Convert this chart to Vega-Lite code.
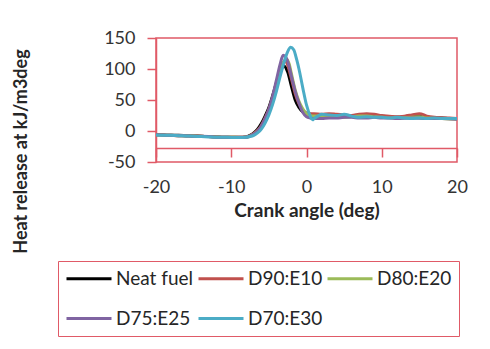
{
  "$schema": "https://vega.github.io/schema/vega-lite/v6.json",
  "autosize": {"type": "none"},
  "width": 301,
  "height": 124,
  "padding": {"left": 156, "top": 38, "right": 33, "bottom": 187},
  "background": "white",
  "config": {
    "view": {"stroke": "#e05a67", "strokeWidth": 1.5},
    "font": "Lato"
  },
  "data": {"values": [
    {"fuel":"Neat fuel","deg":-20,"hr":-6},{"fuel":"Neat fuel","deg":-19,"hr":-6.5},{"fuel":"Neat fuel","deg":-18,"hr":-7},{"fuel":"Neat fuel","deg":-17,"hr":-7},{"fuel":"Neat fuel","deg":-16,"hr":-7.5},{"fuel":"Neat fuel","deg":-15,"hr":-8},{"fuel":"Neat fuel","deg":-14,"hr":-8.5},{"fuel":"Neat fuel","deg":-13,"hr":-9},{"fuel":"Neat fuel","deg":-12,"hr":-9.5},{"fuel":"Neat fuel","deg":-11,"hr":-10},{"fuel":"Neat fuel","deg":-10,"hr":-10},{"fuel":"Neat fuel","deg":-9,"hr":-10},{"fuel":"Neat fuel","deg":-8,"hr":-9.5},
    {"fuel":"Neat fuel","deg":-7.5,"hr":-7},{"fuel":"Neat fuel","deg":-7,"hr":-3},{"fuel":"Neat fuel","deg":-6.5,"hr":3},{"fuel":"Neat fuel","deg":-6,"hr":12},{"fuel":"Neat fuel","deg":-5.5,"hr":24},{"fuel":"Neat fuel","deg":-5,"hr":38},{"fuel":"Neat fuel","deg":-4.5,"hr":57},{"fuel":"Neat fuel","deg":-4,"hr":78},{"fuel":"Neat fuel","deg":-3.5,"hr":96},{"fuel":"Neat fuel","deg":-3,"hr":105},{"fuel":"Neat fuel","deg":-2.5,"hr":95},{"fuel":"Neat fuel","deg":-2,"hr":72},{"fuel":"Neat fuel","deg":-1.5,"hr":50},{"fuel":"Neat fuel","deg":-1,"hr":38},{"fuel":"Neat fuel","deg":-0.5,"hr":31},{"fuel":"Neat fuel","deg":0,"hr":28},{"fuel":"Neat fuel","deg":0.5,"hr":27},{"fuel":"Neat fuel","deg":1,"hr":26},{"fuel":"Neat fuel","deg":2,"hr":25},{"fuel":"Neat fuel","deg":3,"hr":24},{"fuel":"Neat fuel","deg":4,"hr":23},{"fuel":"Neat fuel","deg":5,"hr":23},{"fuel":"Neat fuel","deg":6,"hr":24},{"fuel":"Neat fuel","deg":7,"hr":25},{"fuel":"Neat fuel","deg":8,"hr":26},{"fuel":"Neat fuel","deg":9,"hr":25},{"fuel":"Neat fuel","deg":10,"hr":24},{"fuel":"Neat fuel","deg":11,"hr":23},{"fuel":"Neat fuel","deg":12,"hr":22},{"fuel":"Neat fuel","deg":13,"hr":23},{"fuel":"Neat fuel","deg":14,"hr":25},{"fuel":"Neat fuel","deg":15,"hr":24},{"fuel":"Neat fuel","deg":16,"hr":22},{"fuel":"Neat fuel","deg":17,"hr":21},{"fuel":"Neat fuel","deg":18,"hr":21},{"fuel":"Neat fuel","deg":19,"hr":20},{"fuel":"Neat fuel","deg":20,"hr":20},

    {"fuel":"D90:E10","deg":-20,"hr":-6},{"fuel":"D90:E10","deg":-19,"hr":-6.5},{"fuel":"D90:E10","deg":-18,"hr":-7},{"fuel":"D90:E10","deg":-17,"hr":-7.5},{"fuel":"D90:E10","deg":-16,"hr":-7.5},{"fuel":"D90:E10","deg":-15,"hr":-8},{"fuel":"D90:E10","deg":-14,"hr":-8.5},{"fuel":"D90:E10","deg":-13,"hr":-9},{"fuel":"D90:E10","deg":-12,"hr":-9.5},{"fuel":"D90:E10","deg":-11,"hr":-10},{"fuel":"D90:E10","deg":-10,"hr":-10},{"fuel":"D90:E10","deg":-9,"hr":-10},{"fuel":"D90:E10","deg":-8,"hr":-9.5},
    {"fuel":"D90:E10","deg":-7.5,"hr":-8},{"fuel":"D90:E10","deg":-7,"hr":-4},{"fuel":"D90:E10","deg":-6.5,"hr":1},{"fuel":"D90:E10","deg":-6,"hr":9},{"fuel":"D90:E10","deg":-5.5,"hr":21},{"fuel":"D90:E10","deg":-5,"hr":35},{"fuel":"D90:E10","deg":-4.5,"hr":54},{"fuel":"D90:E10","deg":-4,"hr":76},{"fuel":"D90:E10","deg":-3.5,"hr":97},{"fuel":"D90:E10","deg":-3,"hr":111},{"fuel":"D90:E10","deg":-2.7,"hr":112},{"fuel":"D90:E10","deg":-2.5,"hr":106},{"fuel":"D90:E10","deg":-2,"hr":84},{"fuel":"D90:E10","deg":-1.5,"hr":60},{"fuel":"D90:E10","deg":-1,"hr":44},{"fuel":"D90:E10","deg":-0.5,"hr":34},{"fuel":"D90:E10","deg":0,"hr":29},{"fuel":"D90:E10","deg":0.5,"hr":28},{"fuel":"D90:E10","deg":1,"hr":28},{"fuel":"D90:E10","deg":2,"hr":27},{"fuel":"D90:E10","deg":3,"hr":28},{"fuel":"D90:E10","deg":4,"hr":27},{"fuel":"D90:E10","deg":5,"hr":26},{"fuel":"D90:E10","deg":6,"hr":25},{"fuel":"D90:E10","deg":7,"hr":27},{"fuel":"D90:E10","deg":8,"hr":28},{"fuel":"D90:E10","deg":9,"hr":27},{"fuel":"D90:E10","deg":10,"hr":25},{"fuel":"D90:E10","deg":11,"hr":24},{"fuel":"D90:E10","deg":12,"hr":23},{"fuel":"D90:E10","deg":13,"hr":24},{"fuel":"D90:E10","deg":14,"hr":26},{"fuel":"D90:E10","deg":15,"hr":28},{"fuel":"D90:E10","deg":16,"hr":24},{"fuel":"D90:E10","deg":17,"hr":22},{"fuel":"D90:E10","deg":18,"hr":21},{"fuel":"D90:E10","deg":19,"hr":21},{"fuel":"D90:E10","deg":20,"hr":20},

    {"fuel":"D80:E20","deg":-20,"hr":-6.5},{"fuel":"D80:E20","deg":-19,"hr":-6.5},{"fuel":"D80:E20","deg":-18,"hr":-7},{"fuel":"D80:E20","deg":-17,"hr":-7.5},{"fuel":"D80:E20","deg":-16,"hr":-8},{"fuel":"D80:E20","deg":-15,"hr":-8},{"fuel":"D80:E20","deg":-14,"hr":-8.5},{"fuel":"D80:E20","deg":-13,"hr":-9},{"fuel":"D80:E20","deg":-12,"hr":-9.5},{"fuel":"D80:E20","deg":-11,"hr":-10},{"fuel":"D80:E20","deg":-10,"hr":-10},{"fuel":"D80:E20","deg":-9,"hr":-10.5},{"fuel":"D80:E20","deg":-8,"hr":-10},
    {"fuel":"D80:E20","deg":-7,"hr":-5},{"fuel":"D80:E20","deg":-6.5,"hr":0},{"fuel":"D80:E20","deg":-6,"hr":7},{"fuel":"D80:E20","deg":-5.5,"hr":18},{"fuel":"D80:E20","deg":-5,"hr":32},{"fuel":"D80:E20","deg":-4.5,"hr":51},{"fuel":"D80:E20","deg":-4,"hr":73},{"fuel":"D80:E20","deg":-3.5,"hr":95},{"fuel":"D80:E20","deg":-3,"hr":112},{"fuel":"D80:E20","deg":-2.7,"hr":116},{"fuel":"D80:E20","deg":-2.3,"hr":108},{"fuel":"D80:E20","deg":-2,"hr":92},{"fuel":"D80:E20","deg":-1.5,"hr":66},{"fuel":"D80:E20","deg":-1,"hr":48},{"fuel":"D80:E20","deg":-0.5,"hr":36},{"fuel":"D80:E20","deg":0,"hr":28},{"fuel":"D80:E20","deg":0.5,"hr":25},{"fuel":"D80:E20","deg":1,"hr":24},{"fuel":"D80:E20","deg":2,"hr":24},{"fuel":"D80:E20","deg":3,"hr":23},{"fuel":"D80:E20","deg":4,"hr":22},{"fuel":"D80:E20","deg":5,"hr":22},{"fuel":"D80:E20","deg":6,"hr":23},{"fuel":"D80:E20","deg":7,"hr":24},{"fuel":"D80:E20","deg":8,"hr":24},{"fuel":"D80:E20","deg":9,"hr":23},{"fuel":"D80:E20","deg":10,"hr":22},{"fuel":"D80:E20","deg":12,"hr":21},{"fuel":"D80:E20","deg":14,"hr":22},{"fuel":"D80:E20","deg":15,"hr":23},{"fuel":"D80:E20","deg":16,"hr":21},{"fuel":"D80:E20","deg":18,"hr":20},{"fuel":"D80:E20","deg":20,"hr":19},

    {"fuel":"D75:E25","deg":-20,"hr":-6},{"fuel":"D75:E25","deg":-19,"hr":-6.5},{"fuel":"D75:E25","deg":-18,"hr":-7},{"fuel":"D75:E25","deg":-17,"hr":-7.5},{"fuel":"D75:E25","deg":-16,"hr":-8},{"fuel":"D75:E25","deg":-15,"hr":-8.5},{"fuel":"D75:E25","deg":-14,"hr":-8.5},{"fuel":"D75:E25","deg":-13,"hr":-9},{"fuel":"D75:E25","deg":-12,"hr":-10},{"fuel":"D75:E25","deg":-11,"hr":-10},{"fuel":"D75:E25","deg":-10,"hr":-10.5},{"fuel":"D75:E25","deg":-9,"hr":-10.5},{"fuel":"D75:E25","deg":-8,"hr":-10},
    {"fuel":"D75:E25","deg":-7,"hr":-5},{"fuel":"D75:E25","deg":-6.5,"hr":0},{"fuel":"D75:E25","deg":-6,"hr":8},{"fuel":"D75:E25","deg":-5.5,"hr":20},{"fuel":"D75:E25","deg":-5,"hr":35},{"fuel":"D75:E25","deg":-4.5,"hr":56},{"fuel":"D75:E25","deg":-4,"hr":82},{"fuel":"D75:E25","deg":-3.5,"hr":108},{"fuel":"D75:E25","deg":-3.1,"hr":122},{"fuel":"D75:E25","deg":-2.7,"hr":118},{"fuel":"D75:E25","deg":-2.3,"hr":104},{"fuel":"D75:E25","deg":-2,"hr":88},{"fuel":"D75:E25","deg":-1.5,"hr":64},{"fuel":"D75:E25","deg":-1,"hr":45},{"fuel":"D75:E25","deg":-0.5,"hr":30},{"fuel":"D75:E25","deg":0,"hr":23},{"fuel":"D75:E25","deg":0.5,"hr":21},{"fuel":"D75:E25","deg":1,"hr":20},{"fuel":"D75:E25","deg":2,"hr":20},{"fuel":"D75:E25","deg":3,"hr":21},{"fuel":"D75:E25","deg":4,"hr":21},{"fuel":"D75:E25","deg":5,"hr":22},{"fuel":"D75:E25","deg":6,"hr":22},{"fuel":"D75:E25","deg":7,"hr":21},{"fuel":"D75:E25","deg":8,"hr":21},{"fuel":"D75:E25","deg":9,"hr":22},{"fuel":"D75:E25","deg":10,"hr":21},{"fuel":"D75:E25","deg":11,"hr":21},{"fuel":"D75:E25","deg":12,"hr":20},{"fuel":"D75:E25","deg":14,"hr":21},{"fuel":"D75:E25","deg":16,"hr":20},{"fuel":"D75:E25","deg":18,"hr":20},{"fuel":"D75:E25","deg":20,"hr":19},

    {"fuel":"D70:E30","deg":-20,"hr":-6.5},{"fuel":"D70:E30","deg":-19,"hr":-7},{"fuel":"D70:E30","deg":-18,"hr":-7},{"fuel":"D70:E30","deg":-17,"hr":-7.5},{"fuel":"D70:E30","deg":-16,"hr":-8},{"fuel":"D70:E30","deg":-15,"hr":-8.5},{"fuel":"D70:E30","deg":-14,"hr":-9},{"fuel":"D70:E30","deg":-13,"hr":-9.5},{"fuel":"D70:E30","deg":-12,"hr":-10},{"fuel":"D70:E30","deg":-11,"hr":-10},{"fuel":"D70:E30","deg":-10,"hr":-10.5},{"fuel":"D70:E30","deg":-9,"hr":-10.5},{"fuel":"D70:E30","deg":-8,"hr":-10},
    {"fuel":"D70:E30","deg":-7.5,"hr":-9},{"fuel":"D70:E30","deg":-7,"hr":-7},{"fuel":"D70:E30","deg":-6.5,"hr":-3},{"fuel":"D70:E30","deg":-6,"hr":3},{"fuel":"D70:E30","deg":-5.5,"hr":13},{"fuel":"D70:E30","deg":-5,"hr":26},{"fuel":"D70:E30","deg":-4.5,"hr":43},{"fuel":"D70:E30","deg":-4,"hr":64},{"fuel":"D70:E30","deg":-3.5,"hr":88},{"fuel":"D70:E30","deg":-3,"hr":110},{"fuel":"D70:E30","deg":-2.5,"hr":128},{"fuel":"D70:E30","deg":-2.1,"hr":135},{"fuel":"D70:E30","deg":-1.7,"hr":131},{"fuel":"D70:E30","deg":-1.3,"hr":115},{"fuel":"D70:E30","deg":-1,"hr":100},{"fuel":"D70:E30","deg":-0.5,"hr":70},{"fuel":"D70:E30","deg":0,"hr":42},{"fuel":"D70:E30","deg":0.5,"hr":24},{"fuel":"D70:E30","deg":0.8,"hr":18},{"fuel":"D70:E30","deg":1,"hr":20},{"fuel":"D70:E30","deg":1.5,"hr":24},{"fuel":"D70:E30","deg":2,"hr":27},{"fuel":"D70:E30","deg":3,"hr":26},{"fuel":"D70:E30","deg":4,"hr":25},{"fuel":"D70:E30","deg":5,"hr":27},{"fuel":"D70:E30","deg":6,"hr":24},{"fuel":"D70:E30","deg":7,"hr":22},{"fuel":"D70:E30","deg":8,"hr":23},{"fuel":"D70:E30","deg":9,"hr":22},{"fuel":"D70:E30","deg":10,"hr":22},{"fuel":"D70:E30","deg":11,"hr":21},{"fuel":"D70:E30","deg":12,"hr":22},{"fuel":"D70:E30","deg":13,"hr":21},{"fuel":"D70:E30","deg":14,"hr":20},{"fuel":"D70:E30","deg":15,"hr":21},{"fuel":"D70:E30","deg":16,"hr":20},{"fuel":"D70:E30","deg":17,"hr":21},{"fuel":"D70:E30","deg":18,"hr":20},{"fuel":"D70:E30","deg":19,"hr":20},{"fuel":"D70:E30","deg":20,"hr":20}
  ]},
  "mark": {"type": "line", "strokeWidth": 3, "interpolate": "monotone", "clip": true},
  "encoding": {
    "x": {
      "field": "deg", "type": "quantitative",
      "scale": {"domain": [-20, 20], "nice": false, "zero": false},
      "axis": {
        "title": "Crank angle (deg)", "values": [-20, -10, 0, 10, 20], "grid": false,
        "labelExpr": "'' + datum.value",
        "offset": -14, "domainColor": "#e05a67", "domainWidth": 1.5,
        "tickColor": "#e05a67", "tickWidth": 1.5, "tickSize": 9,
        "labelFont": "Lato", "labelFontSize": 18, "labelColor": "#333333", "labelPadding": 21,
        "labelFlush": false,
        "titleFont": "Lato", "titleFontSize": 19, "titleFontWeight": "bold", "titleColor": "#262626", "titlePadding": 5
      }
    },
    "y": {
      "field": "hr", "type": "quantitative",
      "scale": {"domain": [-50, 150], "nice": false, "zero": false},
      "axis": {
        "title": "Heat release at kJ/m3deg", "values": [-50, 0, 50, 100, 150], "grid": false,
        "labelExpr": "'' + datum.value",
        "domainColor": "#e05a67", "domainWidth": 1.5,
        "tickColor": "#e05a67", "tickWidth": 1.5, "tickSize": 9,
        "labelFont": "Lato", "labelFontSize": 18, "labelColor": "#333333", "labelPadding": 12,
        "labelFlush": false,
        "titleFont": "Lato", "titleFontSize": 18, "titleFontWeight": "bold", "titleColor": "#262626",
        "titleX": -135, "titleY": 113, "titleAngle": -90, "titleBaseline": "middle", "titleAlign": "center"
      }
    },
    "color": {
      "field": "fuel", "type": "nominal",
      "scale": {
        "domain": ["Neat fuel", "D90:E10", "D80:E20", "D75:E25", "D70:E30"],
        "range": ["#000000", "#c0504d", "#9bbb59", "#8064a2", "#4bacc6"]
      },
      "legend": {
        "title": null, "orient": "none", "legendX": -98, "legendY": 223,
        "direction": "horizontal", "columns": 3,
        "symbolType": "M-1,0H4", "symbolSize": 324, "symbolStrokeWidth": 3,
        "labelFont": "Lato", "labelFontSize": 19, "labelColor": "#262626", "labelOffset": 30,
        "columnPadding": -2, "rowPadding": 19, "padding": 7,
        "strokeColor": "#e05a67"
      }
    }
  }
}
